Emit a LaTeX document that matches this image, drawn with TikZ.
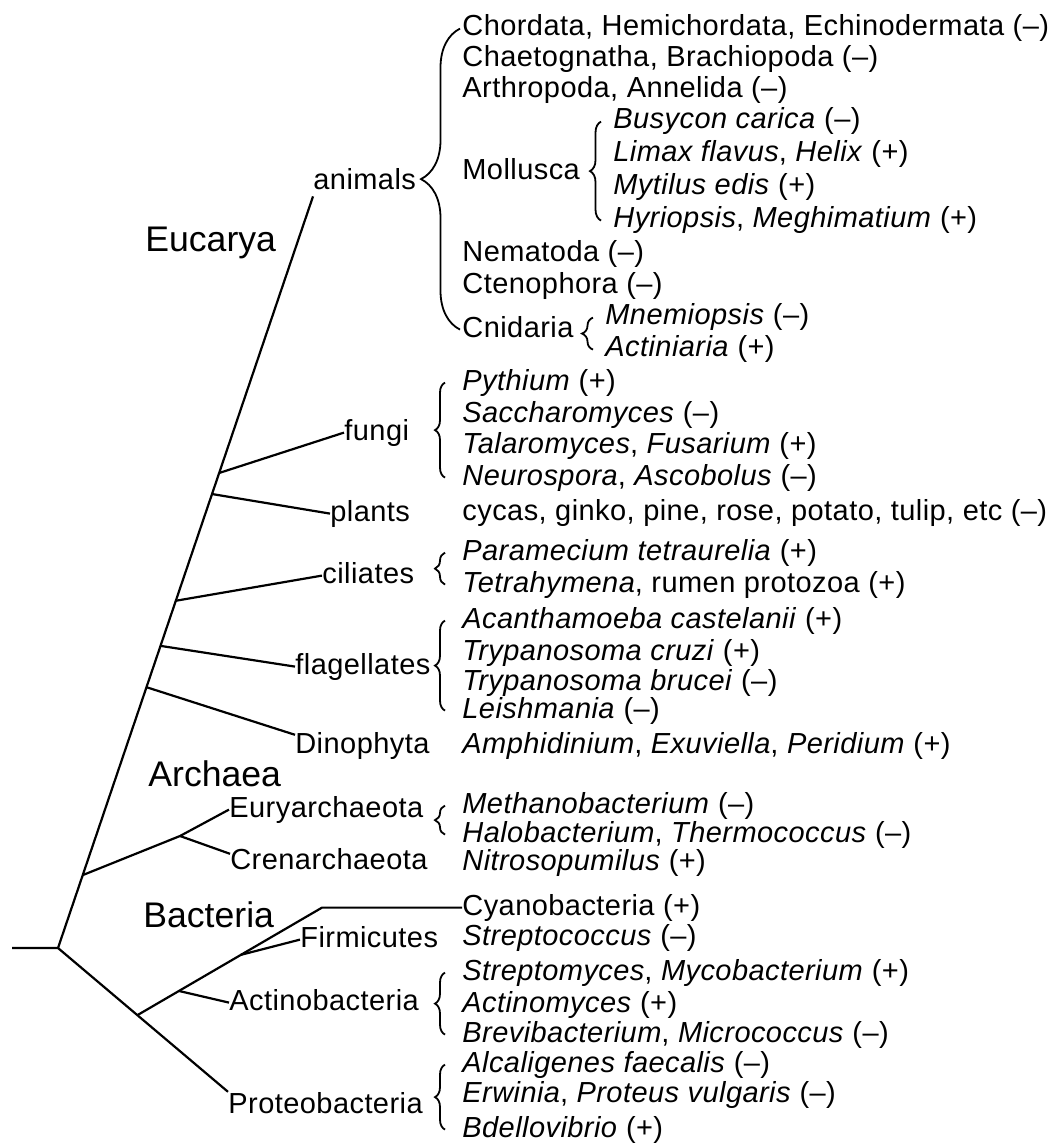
\documentclass[tikz,border=0pt]{standalone}
\usepackage{fontspec}
\setmainfont{Liberation Sans}
\usetikzlibrary{calc, decorations.pathreplacing}

\begin{document}
\begin{tikzpicture}[x=0.5pt, y=-0.5pt,
    branch/.style={line width=1.1pt},
    taxon/.style={anchor=base west, inner sep=0pt, font=\fontsize{14.5}{16}\selectfont\addfontfeature{LetterSpace=1.5}, text height=10.4pt, text depth=3pt},
    realm/.style={anchor=base west, inner sep=0pt, font=\fontsize{17.8}{20}\selectfont},
    grp/.style={decorate, decoration={brace, amplitude=#1}, line width=0.9pt}]
    \useasboundingbox (0,0) rectangle (1053,1144);

    % Domains
    \node[realm] (eucarya) at (145,252) {Eucarya};
    \node[realm] (archaea) at (148,786) {Archaea};
    \node[realm] (bacteria) at (143,927) {Bacteria};

    % Groups on the tree
    \node[taxon] (animals) at (313,190) {animals};
    \node[taxon] (fungi) at (344,440) {fungi};
    \node[taxon] (plants) at (330,521) {plants};
    \node[taxon] (ciliates) at (322,583) {ciliates};
    \node[taxon] (flag) at (295,674) {flagellates};
    \node[taxon] (dino) at (295,753) {Dinophyta};
    \node[taxon] (eury) at (229,817) {Euryarchaeota};
    \node[taxon] (cren) at (230,869) {Crenarchaeota};
    \node[taxon] (firmi) at (300,947) {Firmicutes};
    \node[taxon] (actino) at (229,1010) {Actinobacteria};
    \node[taxon] (proteo) at (228,1113) {Proteobacteria};

    % Animals
    \node[taxon] (chord) at (462,36) {Chordata, Hemichordata, Echinodermata (--)};
    \node[taxon] (chaeto) at (462,67) {Chaetognatha, Brachiopoda (--)};
    \node[taxon] (arthro) at (462,98) {Arthropoda, Annelida (--)};
    \node[taxon] (moll) at (462,180) {Mollusca};
    \node[taxon] (busy) at (613,129) {\textit{Busycon carica} (--)};
    \node[taxon] (limax) at (613,162) {\textit{Limax flavus}, \textit{Helix} (+)};
    \node[taxon] (mytil) at (613,195) {\textit{Mytilus edis} (+)};
    \node[taxon] (hyrio) at (613,228) {\textit{Hyriopsis}, \textit{Meghimatium} (+)};
    \node[taxon] (nemat) at (462,262) {Nematoda (--)};
    \node[taxon] (cteno) at (462,293) {Ctenophora (--)};
    \node[taxon] (cnid) at (462,337) {Cnidaria};
    \node[taxon] (mnemi) at (605,325) {\textit{Mnemiopsis} (--)};
    \node[taxon] (actini) at (605,357) {\textit{Actiniaria} (+)};

    % Fungi, plants, protists
    \node[taxon] (pyth) at (462,390) {\textit{Pythium} (+)};
    \node[taxon] (sacch) at (462,422) {\textit{Saccharomyces} (--)};
    \node[taxon] (talaro) at (462,453) {\textit{Talaromyces}, \textit{Fusarium} (+)};
    \node[taxon] (neuro) at (462,485) {\textit{Neurospora}, \textit{Ascobolus} (--)};
    \node[taxon] (cycas) at (462,520) {cycas, ginko, pine, rose, potato, tulip, etc (--)};
    \node[taxon] (param) at (462,560) {\textit{Paramecium tetraurelia} (+)};
    \node[taxon] (tetra) at (462,592) {\textit{Tetrahymena}, rumen protozoa (+)};
    \node[taxon] (acanth) at (462,628) {\textit{Acanthamoeba castelanii} (+)};
    \node[taxon] (tcruzi) at (462,660) {\textit{Trypanosoma cruzi} (+)};
    \node[taxon] (tbrucei) at (462,690) {\textit{Trypanosoma brucei} (--)};
    \node[taxon] (leish) at (462,718) {\textit{Leishmania} (--)};
    \node[taxon] (amphi) at (462,753) {\textit{Amphidinium}, \textit{Exuviella}, \textit{Peridium} (+)};

    % Archaea
    \node[taxon] (methano) at (462,813) {\textit{Methanobacterium} (--)};
    \node[taxon] (halo) at (462,842) {\textit{Halobacterium}, \textit{Thermococcus} (--)};
    \node[taxon] (nitro) at (462,870) {\textit{Nitrosopumilus} (+)};

    % Bacteria
    \node[taxon] (cyano) at (462,915) {Cyanobacteria (+)};
    \node[taxon] (strepto) at (462,945) {\textit{Streptococcus} (--)};
    \node[taxon] (streptom) at (462,980) {\textit{Streptomyces}, \textit{Mycobacterium} (+)};
    \node[taxon] (actinom) at (462,1012) {\textit{Actinomyces} (+)};
    \node[taxon] (brevi) at (462,1042) {\textit{Brevibacterium}, \textit{Micrococcus} (--)};
    \node[taxon] (alcal) at (462,1072) {\textit{Alcaligenes faecalis} (--)};
    \node[taxon] (erwin) at (462,1102) {\textit{Erwinia}, \textit{Proteus vulgaris} (--)};
    \node[taxon] (bdello) at (462,1137) {\textit{Bdellovibrio} (+)};

    % Tree
    \coordinate (stub) at (12,948);
    \coordinate (root) at (58,948);
    \draw[branch] (stub) -- (root) -- (animals.south west);
    \draw[branch] (root) -- (proteo.north west);

    % Eucarya branches
    \draw[branch] ($(root)!0.632!(animals.south west)$) -- (fungi.west);
    \draw[branch] ($(root)!0.604!(animals.south west)$) -- (plants.west);
    \draw[branch] ($(root)!0.462!(animals.south west)$) -- (ciliates.west);
    \draw[branch] ($(root)!0.402!(animals.south west)$) -- (flag.west);
    \draw[branch] ($(root)!0.347!(animals.south west)$) -- ([yshift=-1.5pt]dino.north west);

    % Archaea branches
    \coordinate (arch) at ($(root)!0.097!(animals.south west)$);
    \coordinate (archfork) at (180,836);
    \draw[branch] (arch) -- (archfork) -- (eury.west);
    \draw[branch] (archfork) -- ([yshift=-3pt]cren.north west);

    % Bacteria branches
    \coordinate (bact) at ($(root)!0.467!(proteo.north west)$);
    \coordinate (cyanoturn) at (322,0 |- cyano.west);
    \draw[branch] (bact) -- (cyanoturn) -- (cyano.west);
    \draw[branch] ($(bact)!0.561!(cyanoturn)$) -- (firmi.west);
    \draw[branch] ($(bact)!0.225!(cyanoturn)$) -- (actino.west);

    % Braces
    \draw[grp=19.5pt] ([xshift=-1pt]cnid.west) -- ([xshift=-1pt]chord.west);
    \draw[grp=5.5pt] ([xshift=-6pt]hyrio.west) -- ([xshift=-6pt]busy.west);
    \draw[grp=5.5pt] ([xshift=-6pt]actini.west) -- ([xshift=-6pt]mnemi.west);
    \draw[grp=5pt] ([xshift=-8.5pt]neuro.west) -- ([xshift=-8.5pt]pyth.west);
    \draw[grp=5pt] ([xshift=-8.5pt]tetra.west) -- ([xshift=-8.5pt]param.west);
    \draw[grp=5pt] ([xshift=-8.5pt]leish.west) -- ([xshift=-8.5pt]acanth.west);
    \draw[grp=5pt] ([xshift=-8.5pt]halo.west) -- ([xshift=-8.5pt]methano.west);
    \draw[grp=5pt] ([xshift=-8.5pt]brevi.west) -- ([xshift=-8.5pt]streptom.west);
    \draw[grp=5pt] ([xshift=-8.5pt]bdello.west) -- ([xshift=-8.5pt]alcal.west);
\end{tikzpicture}
\end{document}
